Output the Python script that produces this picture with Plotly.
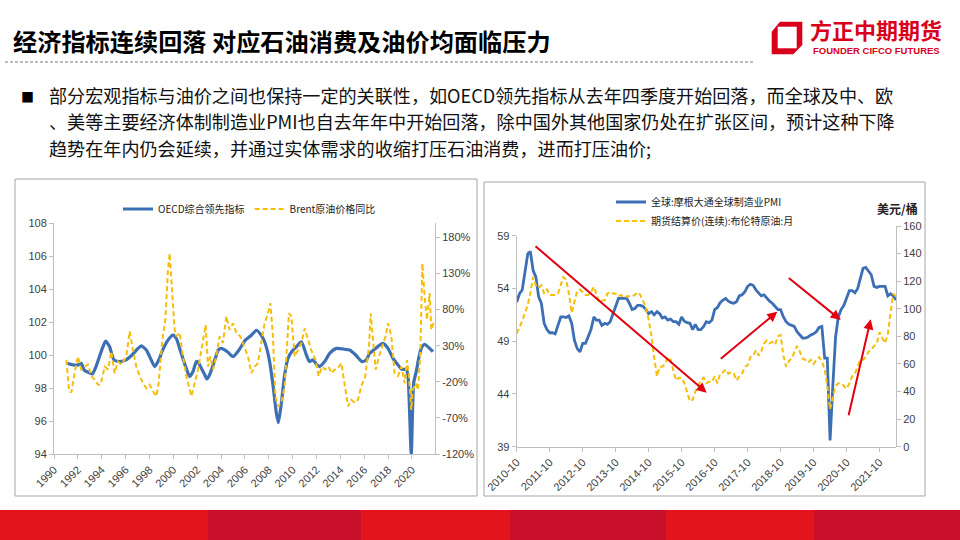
import plotly.graph_objects as go
import pandas as pd

# ---------------- data: left chart ----------------
oecd_year = [1991.12, 1991.59, 1992.01, 1992.29, 1992.51, 1993.02, 1993.21, 1993.52, 1994.05, 1994.33,
             1994.66, 1995.03, 1995.53, 1996.03, 1996.54, 1997.04, 1997.32, 1997.74, 1998.02, 1998.44,
             1998.85, 1999.05, 1999.55, 1999.97, 2000.25, 2000.53, 2001.03, 2001.37, 2001.65, 2001.93,
             2002.04, 2002.21, 2002.63, 2002.82, 2003.04, 2003.52, 2003.77, 2004.02, 2004.53, 2005.0,
             2005.5, 2006.03, 2006.54, 2006.96, 2007.37, 2007.65, 2008.02, 2008.35, 2008.63, 2008.80,
             2009.04, 2009.33, 2009.61, 2010.03, 2010.31, 2010.73, 2011.15, 2011.42, 2011.70, 2012.04,
             2012.26, 2012.68, 2013.10, 2013.66, 2014.36, 2014.78, 2015.28, 2015.81, 2016.17, 2016.45,
             2016.79, 2017.29, 2017.57, 2017.99, 2018.41, 2018.83, 2019.11, 2019.53, 2019.66, 2019.94,
             2020.14, 2020.36, 2020.59, 2020.78, 2021.06, 2021.48, 2021.76]
oecd_value = [99.5, 99.4, 99.4, 99.5, 99.1, 98.9, 98.85, 99.3, 100.4, 100.85,
              100.5, 99.7, 99.6, 99.7, 100.0, 100.4, 100.55, 100.3, 99.9, 99.3,
              99.8, 100.2, 100.9, 101.2, 101.0, 100.4, 99.3, 98.7, 99.0, 99.6,
              99.6, 99.4, 98.8, 98.55, 98.8, 99.8, 100.3, 100.4, 100.2, 99.9,
              100.3, 100.9, 101.2, 101.5, 101.2, 100.8, 99.8, 98.2, 96.5, 95.9,
              97.0, 98.8, 99.8, 100.3, 100.5, 100.8, 100.0, 99.6, 99.7, 99.4,
              99.3, 99.6, 100.1, 100.4, 100.35, 100.3, 100.0, 99.6, 99.7, 100.1,
              100.3, 100.6, 100.7, 100.4, 99.8, 99.4, 99.15, 99.1, 98.8, 94.0,
              98.3, 99.0, 99.9, 100.4, 100.65, 100.4, 100.2]

brent_year = [1991.03, 1991.26, 1991.45, 1991.65, 1991.82, 1992.01, 1992.29, 1992.57, 1992.85, 1993.13,
              1993.41, 1993.69, 1993.91, 1994.25, 1994.53, 1994.80, 1995.08, 1995.36, 1995.64, 1996.06,
              1996.34, 1996.62, 1996.90, 1997.18, 1997.46, 1997.74, 1998.02, 1998.30, 1998.58, 1998.77,
              1999.08, 1999.33, 1999.55, 1999.69, 1999.83, 1999.97, 2000.11, 2000.25, 2000.53, 2000.81,
              2001.09, 2001.37, 2001.51, 2001.79, 2002.07, 2002.35, 2002.71, 2002.91, 2003.10, 2003.32,
              2003.60, 2003.88, 2004.16, 2004.44, 2004.72, 2005.0, 2005.28, 2005.61, 2005.92, 2006.26,
              2006.54, 2006.82, 2007.09, 2007.37, 2007.65, 2007.93, 2008.13, 2008.35, 2008.55, 2008.77,
              2009.05, 2009.33, 2009.53, 2009.69, 2009.89, 2010.17, 2010.45, 2010.73, 2011.01, 2011.28,
              2011.56, 2011.93, 2012.18, 2012.46, 2012.74, 2013.02, 2013.24, 2013.52, 2013.80, 2014.08,
              2014.36, 2014.64, 2014.92, 2015.20, 2015.47, 2015.75, 2016.09, 2016.40, 2016.54, 2016.73,
              2016.96, 2017.23, 2017.43, 2017.79, 2017.99, 2018.27, 2018.55, 2018.83, 2019.11, 2019.39,
              2019.58, 2019.75, 2019.94, 2020.08, 2020.31, 2020.50, 2020.70, 2020.87, 2021.06, 2021.26,
              2021.48, 2021.62, 2021.90]
brent_yoy = [10, -31, -35, -12, 1, 15, -3, 1, 4, -12,
             -17, -24, -24, 1, -3, 22, -8, 8, 4, 15,
             50, 24, 1, -12, -22, -29, -24, -33, -40, -22,
             38, 66, 135, 158, 126, 80, 52, 43, 48, 15,
             -12, -31, -40, -22, -3, 24, 59, 1, 15, -3,
             15, 43, 34, 71, 52, 61, 48, 43, 29, 15,
             -8, 1, 6, 34, 61, 75, 89, 43, -40, -54,
             -49, -26, 24, 75, 71, 15, 24, 34, 54, 38,
             24, 10, -12, 1, -3, 1, -8, -3, -1, 6,
             -22, -54, -45, -49, -45, -26, -12, 29, 75, 38,
             -3, 15, 24, 43, 61, 43, -8, -12, 1, -22,
             10, -12, -59, -31, -22, -31, 20, 144, 98, 66,
             103, 52, 66]

left_year_ticks = list(range(1990, 2021, 2))
left_y2_ticks = [-120, -70, -20, 30, 80, 130, 180]

# ---------------- data: right chart ----------------
pmi_start = "2010-10-01"
pmi = [52.7, 53.5, 53.85,
       55.7, 57.3, 57.5, 55.7, 55.1, 53.2, 52.6, 50.7, 50.1, 49.8, 49.8, 49.7,
       50.5, 51.3, 51.3, 51.25, 51.4, 50.7, 49.1, 48.3, 48.0, 48.8, 48.8, 49.4,
       50.1, 51.3, 51.0, 51.0, 50.5, 50.7, 50.6, 50.85, 51.6, 52.3, 53.05, 53.05,
       53.05, 53.05, 52.6, 52.0, 52.1, 52.4, 52.4, 52.3, 52.0, 51.6, 51.8, 51.5,
       51.8, 51.6, 51.2, 51.3, 51.0, 51.1, 50.85, 50.85, 50.6, 51.3, 50.9, 50.75,
       50.7, 50.1, 50.6, 50.1, 50.1, 50.4, 50.85, 50.75, 51.0, 52.0, 52.2, 52.65,
       52.9, 53.05, 52.8, 52.65, 52.6, 52.75, 53.3, 53.4, 53.7, 54.2, 54.4, 54.3,
       53.85, 53.5, 53.3, 53.4, 53.05, 52.8, 52.6, 52.3, 52.0, 52.0, 51.3, 50.85,
       50.6, 50.5, 50.4, 49.9, 49.6, 49.3, 49.3, 49.4, 49.6, 49.7, 49.9, 50.3,
       50.4, 47.4, 47.4, 39.6, 44.7, 49.4, 51.3, 52.0, 52.4, 53.05, 53.8, 53.8,
       53.6, 54.0, 55.0, 55.9, 56.0, 55.6, 55.3, 54.2, 54.1, 54.2, 54.2, 54.2,
       53.3, 53.5, 53.3, 52.9]
brent_price = [82, 86, 91,
               97, 103, 111, 123, 117, 115, 117, 111, 114, 110, 110, 110,
               111, 117, 123, 121, 111, 97, 104, 113, 114, 112, 110, 110,
               112, 116, 110, 105, 106, 106, 111, 112, 111, 111, 109, 110,
               108, 109, 109, 109, 110, 112, 110, 106, 101, 92, 80, 65,
               51, 58, 58, 60, 65, 63, 56, 48, 50, 50, 46, 39,
               33, 34, 40, 44, 48, 50, 46, 47, 47, 51, 46, 53,
               54, 56, 53, 54, 53, 48, 51, 53, 58, 59, 65, 66,
               70, 66, 69, 75, 77, 75, 76, 74, 80, 81, 66, 58,
               62, 64, 68, 73, 69, 64, 63, 61, 63, 60, 63, 65,
               62, 56, 44, 27, 36, 44, 46, 46, 44, 42, 46, 51,
               53, 58, 63, 63, 65, 69, 70, 73, 75, 83, 79, 75,
               82, 97, 111, 109]
right_x_ticks = [f"{y}-10" for y in range(2010, 2022)]
right_y_ticks = [39, 44, 49, 54, 59]

# ---------------- text ----------------
title_text = "经济指标连续回落 对应石油消费及油价均面临压力"
bullet_lines = [
    "部分宏观指标与油价之间也保持一定的关联性，如OECD领先指标从去年四季度开始回落，而全球及中、欧",
    "、美等主要经济体制制造业PMI也自去年年中开始回落，除中国外其他国家仍处在扩张区间，预计这种下降",
    "趋势在年内仍会延续，并通过实体需求的收缩打压石油消费，进而打压油价;",
]

W, H = 960, 540
def px(x):
    return x / W
def py(y):
    return 1 - y / H

BLUE = "#3d6fb4"
YELLOW = "#f5bd0c"
AXIS = "#bfbfbf"
TICKF = dict(size=11, color="#404040", family="Liberation Sans Narrow, Liberation Sans, Noto Sans CJK SC")
LEGF = dict(size=10, family="Liberation Sans Narrow, Noto Sans CJK SC", color="#222")
CJK = "Noto Sans CJK SC"

dates = pd.date_range(pmi_start, periods=len(pmi), freq="MS")

fig = go.Figure()
fig.add_trace(go.Scatter(x=oecd_year, y=oecd_value, mode="lines", name="OECD综合领先指标",
                         line=dict(color=BLUE, width=3.2, shape="spline", smoothing=0.6),
                         xaxis="x", yaxis="y", legend="legend"))
fig.add_trace(go.Scatter(x=brent_year, y=brent_yoy, mode="lines", name="Brent原油价格同比",
                         line=dict(color=YELLOW, width=2, dash="5px,3px"),
                         xaxis="x", yaxis="y2", legend="legend"))
fig.add_trace(go.Scatter(x=dates, y=pmi, mode="lines", name="全球:摩根大通全球制造业PMI",
                         line=dict(color=BLUE, width=2.8),
                         xaxis="x3", yaxis="y3", legend="legend2"))
fig.add_trace(go.Scatter(x=dates, y=brent_price, mode="lines", name="期货结算价(连续):布伦特原油:月",
                         line=dict(color=YELLOW, width=2, dash="5px,3px"),
                         xaxis="x4", yaxis="y4", legend="legend2"))

ax_common = dict(showline=True, linecolor=AXIS, linewidth=1, ticks="outside", ticklen=4,
                 tickcolor=AXIS, showgrid=False, zeroline=False, tickfont=TICKF, automargin=False)

x_left_dom = [px(54), px(435)]
y_left_dom = [py(454), py(223)]
x_right_dom = [px(516.7), px(896)]
end_date = dates[-1]

fig.update_layout(
    width=W, height=H, margin=dict(l=0, r=0, t=0, b=0, autoexpand=False),
    paper_bgcolor="white", plot_bgcolor="rgba(0,0,0,0)",
    font=dict(family=CJK, color="#222"),
    xaxis=dict(domain=x_left_dom, anchor="y", range=[1990, 2021.93],
               tickvals=left_year_ticks, ticktext=[str(v) for v in left_year_ticks],
               tickangle=-45, **ax_common),
    yaxis=dict(domain=y_left_dom, anchor="x", range=[94, 108], dtick=2, **ax_common),
    yaxis2=dict(overlaying="y", side="right", anchor="x", range=[-120, 200],
                tickvals=left_y2_ticks, ticktext=[f"{v}%" for v in left_y2_ticks], **ax_common),
    xaxis3=dict(domain=x_right_dom, anchor="y3", type="date",
                range=[dates[0], end_date],
                tickvals=[pd.Timestamp(t + "-01") for t in right_x_ticks], ticktext=right_x_ticks,
                tickangle=-45, **ax_common),
    yaxis3=dict(domain=[py(446.7), py(235.7)], anchor="x3", range=[39, 59],
                tickvals=right_y_ticks, ticktext=[str(v) for v in right_y_ticks], **ax_common),
    xaxis4=dict(domain=x_right_dom, anchor="y4", type="date", range=[dates[0], end_date], visible=False),
    yaxis4=dict(domain=[py(446.7), py(226)], anchor="x4", side="right", range=[0, 160], dtick=20, **ax_common),
    legend=dict(orientation="h", x=px(118), y=py(209), xanchor="left", yanchor="middle",
                font=LEGF, itemwidth=30, bgcolor="rgba(0,0,0,0)", tracegroupgap=0),
    legend2=dict(orientation="v", x=px(611), y=py(211.5), xanchor="left", yanchor="middle",
                 font=LEGF, itemwidth=30, bgcolor="rgba(0,0,0,0)", tracegroupgap=0),
    showlegend=True,
)

shapes = []
shapes.append(dict(type="rect", xref="paper", yref="paper", x0=px(15), x1=px(477), y0=py(496), y1=py(179),
                   line=dict(color="#a6a6a6", width=1), layer="below"))
shapes.append(dict(type="rect", xref="paper", yref="paper", x0=px(484), x1=px(925), y0=py(496), y1=py(182),
                   line=dict(color="#a6a6a6", width=1), layer="below"))
shapes.append(dict(type="line", xref="paper", yref="paper", x0=px(5), x1=px(755), y0=py(62), y1=py(62),
                   line=dict(color="#7a7a7a", width=1, dash="3px,2px")))
band = [(0, 208, "#e3141c"), (208, 361, "#c8102b"), (361, 510, "#e3141c"),
        (510, 666, "#c8102b"), (666, 814, "#e3141c"), (814, 960, "#c8102b")]
for a, b, c in band:
    shapes.append(dict(type="rect", xref="paper", yref="paper", x0=px(a), x1=px(b), y0=0, y1=py(510),
                       line=dict(width=0), fillcolor=c))
outer = [(780, 21.7), (802.3, 21.7), (802.3, 45), (793.3, 54.3), (771.7, 54.3), (771.7, 31.7)]
path = "M " + " L ".join(f"{px(x):.5f},{py(y):.5f}" for x, y in outer) + " Z"
shapes.append(dict(type="path", xref="paper", yref="paper", path=path, fillcolor="#d9001b", line=dict(width=0)))
shapes.append(dict(type="rect", xref="paper", yref="paper", x0=px(777.7), x1=px(796.7), y0=py(48.3), y1=py(26.7),
                   fillcolor="white", line=dict(width=0)))
fig.update_layout(shapes=shapes)

ann = []
ann.append(dict(text=f"<b>{title_text}</b>", x=px(11), y=py(40), xref="paper", yref="paper",
                xanchor="left", yanchor="middle", showarrow=False,
                font=dict(size=24.2, family=CJK, color="#000")))
ann.append(dict(text="<b>方正中期期货</b>", x=px(876), y=py(29), xref="paper", yref="paper",
                xanchor="center", yanchor="middle", showarrow=False,
                font=dict(size=22, family=CJK, color="#d9001b")))
ann.append(dict(text="<b>FOUNDER CIFCO FUTURES</b>", x=px(876), y=py(50.5), xref="paper", yref="paper",
                xanchor="center", yanchor="middle", showarrow=False,
                font=dict(size=9.5, family="Liberation Sans Narrow, Liberation Sans", color="#d9001b")))
ann.append(dict(text="■", x=px(27), y=py(96), xref="paper", yref="paper", xanchor="center", yanchor="middle",
                showarrow=False, font=dict(size=13, family=CJK, color="#000")))
for i, line in enumerate(bullet_lines):
    ann.append(dict(text=line, x=px(48), y=py(94.5 + 26.5 * i), xref="paper", yref="paper",
                    xanchor="left", yanchor="middle", showarrow=False, borderpad=0,
                    font=dict(size=18.1, family=CJK, color="#111")))
ann.append(dict(text="<b>美元/桶</b>", x=px(897), y=py(208), xref="paper", yref="paper",
                xanchor="center", yanchor="middle", showarrow=False,
                font=dict(size=12, family=CJK, color="#222")))
arrows = [((706.7, 392.7), (534, 245)), ((777.3, 311.7), (719.3, 360)),
          ((840.7, 320), (787.3, 276.7)), ((870.7, 319.3), (848.3, 416.7))]
for (hx, hy), (tx, ty) in arrows:
    ann.append(dict(text="", x=px(hx), y=py(hy), xref="paper", yref="paper", showarrow=True,
                    ax=tx - hx, ay=ty - hy, axref="pixel", ayref="pixel",
                    arrowhead=2, arrowsize=1, arrowwidth=2, arrowcolor="#e3000f", standoff=0))
fig.update_layout(annotations=ann)

fig.write_html("out.html")
